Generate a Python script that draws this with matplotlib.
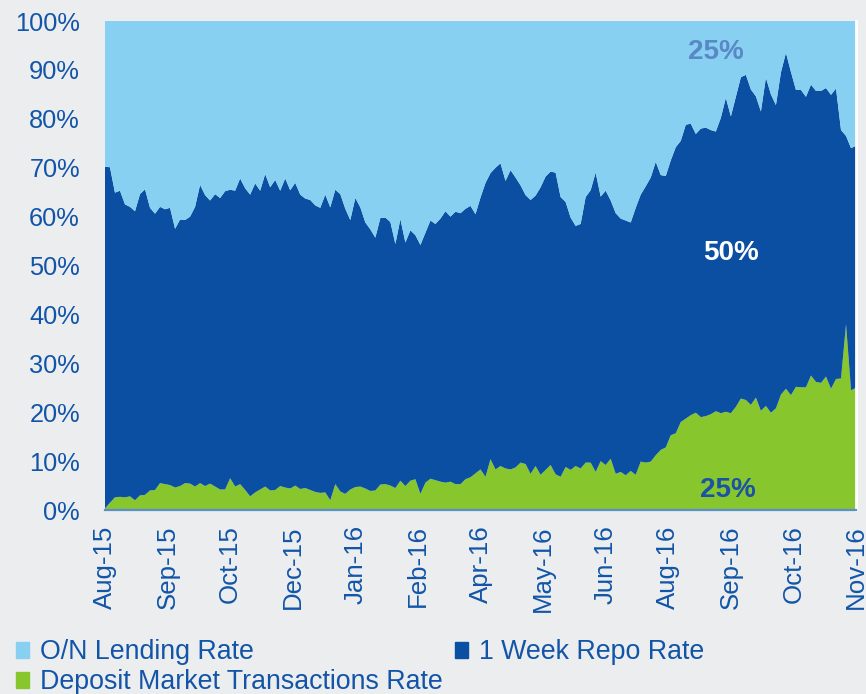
import numpy as np
import matplotlib
matplotlib.use("Agg")
import matplotlib.pyplot as plt
from matplotlib.patches import Patch

plt.rcParams['font.family'] = ['Liberation Sans', 'DejaVu Sans']

# shares of each rate in the 100% stack
deposit = [0.3, 1.5, 2.6, 2.7, 2.6, 2.8, 2.0, 3.0, 3.1, 4.0,
           4.1, 5.5, 5.3, 5.1, 4.6, 4.9, 5.5, 5.4, 4.8, 5.5,
           4.9, 5.4, 4.8, 4.2, 4.2, 6.5, 4.8, 5.3, 4.1, 2.8,
           3.6, 4.2, 4.8, 4.0, 4.1, 4.9, 4.6, 4.4, 5.0, 4.3,
           4.5, 4.1, 3.7, 3.5, 3.6, 2.0, 5.3, 3.8, 3.3, 4.2,
           4.7, 4.8, 4.4, 3.9, 4.0, 5.2, 5.3, 5.0, 4.5, 6.0,
           4.9, 6.0, 6.3, 3.3, 5.6, 6.4, 6.1, 5.8, 5.6, 5.8,
           5.3, 5.3, 6.3, 6.7, 7.5, 8.3, 6.8, 10.4, 8.3, 9.0,
           8.5, 8.3, 8.7, 9.7, 9.4, 7.4, 9.0, 7.2, 8.2, 9.2,
           7.3, 6.8, 8.8, 8.2, 9.0, 8.5, 9.7, 9.7, 7.8, 10.0,
           9.2, 10.5, 7.4, 7.8, 7.1, 8.0, 7.2, 9.9, 9.7, 9.9,
           11.2, 12.3, 12.8, 15.3, 15.7, 18.0, 18.7, 19.4, 19.9, 19.0,
           19.2, 19.6, 20.2, 19.8, 20.1, 19.8, 21.1, 22.8, 22.5, 21.5,
           23.0, 20.3, 21.3, 19.9, 20.8, 23.6, 24.8, 23.5, 25.2, 25.1,
           25.1, 27.5, 26.2, 26.0, 27.3, 24.8, 26.8, 26.9, 38.0, 24.5,
           25.0]

repo = [69.9, 68.6, 62.3, 62.6, 59.9, 59.2, 59.1, 61.6, 62.5, 57.8,
        56.5, 56.5, 56.2, 56.7, 52.9, 54.5, 53.8, 54.6, 57.2, 61.0,
        59.5, 57.9, 59.8, 59.6, 61.0, 59.0, 60.5, 62.5, 61.7, 61.7,
        63.2, 61.1, 63.9, 62.0, 63.4, 60.4, 63.2, 61.0, 61.9, 60.2,
        59.2, 59.3, 58.6, 58.3, 60.9, 59.9, 60.2, 60.8, 58.3, 55.1,
        59.1, 57.1, 54.4, 53.5, 51.7, 54.5, 54.5, 53.9, 49.9, 53.5,
        49.8, 51.2, 49.9, 50.9, 51.1, 52.8, 52.4, 53.8, 55.5, 54.2,
        55.7, 55.4, 55.3, 55.5, 53.0, 55.6, 60.1, 58.5, 61.7, 61.9,
        58.8, 61.2, 59.3, 56.7, 55.0, 56.0, 55.3, 58.8, 60.0, 60.0,
        61.7, 57.2, 54.2, 51.6, 49.1, 50.0, 54.3, 55.7, 61.2, 54.1,
        56.1, 52.8, 53.3, 51.8, 52.1, 50.8, 54.6, 54.6, 56.5, 58.1,
        60.0, 56.2, 55.5, 56.2, 58.5, 57.5, 60.1, 59.6, 57.0, 59.0,
        59.0, 58.1, 57.2, 60.4, 64.2, 60.7, 63.4, 65.7, 66.5, 64.5,
        61.6, 61.2, 67.1, 65.1, 62.0, 65.9, 68.7, 66.1, 60.7, 60.8,
        59.4, 59.5, 59.5, 59.7, 59.0, 60.1, 59.4, 50.8, 38.5, 49.5,
        49.5]

lending = [29.8, 29.9, 35.1, 34.7, 37.5, 38.0, 38.9, 35.4, 34.4, 38.2,
           39.4, 38.0, 38.5, 38.2, 42.5, 40.6, 40.7, 40.0, 38.0, 33.5,
           35.6, 36.7, 35.4, 36.2, 34.8, 34.5, 34.7, 32.2, 34.2, 35.5,
           33.2, 34.7, 31.3, 34.0, 32.5, 34.7, 32.2, 34.6, 33.1, 35.5,
           36.3, 36.6, 37.7, 38.2, 35.5, 38.1, 34.5, 35.4, 38.4, 40.7,
           36.2, 38.1, 41.2, 42.6, 44.3, 40.3, 40.2, 41.1, 45.6, 40.5,
           45.3, 42.8, 43.8, 45.8, 43.3, 40.8, 41.5, 40.4, 38.9, 40.0,
           39.0, 39.3, 38.4, 37.8, 39.5, 36.1, 33.1, 31.1, 30.0, 29.1,
           32.7, 30.5, 32.0, 33.6, 35.6, 36.6, 35.7, 34.0, 31.8, 30.8,
           31.0, 36.0, 37.0, 40.2, 41.9, 41.5, 36.0, 34.6, 31.0, 35.9,
           34.7, 36.7, 39.3, 40.4, 40.8, 41.2, 38.2, 35.5, 33.8, 32.0,
           28.8, 31.5, 31.7, 28.5, 25.8, 24.5, 21.2, 21.0, 23.1, 22.0,
           21.8, 22.3, 22.6, 19.8, 15.7, 19.5, 15.5, 11.5, 11.0, 14.0,
           15.4, 18.5, 11.6, 15.0, 17.2, 10.5, 6.5, 10.4, 14.1, 14.1,
           15.5, 13.0, 14.3, 14.3, 13.7, 15.1, 13.8, 22.3, 23.5, 26.0,
           25.5]

tick_labels = ['Aug-15', 'Sep-15', 'Oct-15', 'Dec-15', 'Jan-16', 'Feb-16', 'Apr-16',
               'May-16', 'Jun-16', 'Aug-16', 'Sep-16', 'Oct-16', 'Nov-16']

c_green = '#88C62E'
c_dark = '#0A4FA2'
c_light = '#88D0F2'
c_text = '#1255A8'
bg = '#ECEDEF'

n = len(deposit)
x = np.arange(n)

fig = plt.figure(figsize=(8.66, 6.94), dpi=100, facecolor=bg)
ax = fig.add_axes([0.1212, 0.2651, 0.8673, 0.7046])
ax.set_facecolor(bg)

ax.stackplot(x, deposit, repo, lending, colors=[c_green, c_dark, c_light], lw=0)

ax.set_xlim(0, n - 1)
ax.set_ylim(0, 100)
ax.set_yticks(np.arange(0, 101, 10))
ax.set_yticklabels([f'{v}%' for v in range(0, 101, 10)])
ax.set_xticks(np.linspace(0, n - 1, len(tick_labels)))
ax.set_xticklabels(tick_labels, rotation=90)
ax.tick_params(axis='y', length=0, pad=18, labelsize=18.3, labelcolor=c_text)
ax.tick_params(axis='x', length=0, pad=11, labelsize=18.6, labelcolor=c_text)

for s in ['top', 'left']:
    ax.spines[s].set_visible(False)
ax.spines['bottom'].set_color('#5B8FCB')
ax.spines['bottom'].set_linewidth(1.6)
ax.spines['right'].set_color('white')
ax.spines['right'].set_linewidth(2)

ax.text(122, 93.7, '25%', color='#5A88C6', fontsize=20, fontweight='bold',
        ha='center', va='center')
ax.text(125, 52.6, '50%', color='white', fontsize=20, fontweight='bold',
        ha='center', va='center')
ax.text(124.4, 4.1, '25%', color='#1A52A6', fontsize=20, fontweight='bold',
        ha='center', va='center')

handles = [Patch(color=c_light, label='O/N Lending Rate'),
           Patch(color=c_green, label='Deposit Market Transactions Rate'),
           Patch(color=c_dark, label='1 Week Repo Rate')]
leg = fig.legend(handles=handles, ncol=2, loc='lower left', bbox_to_anchor=(0.015, -0.006),
                 frameon=False, fontsize=19.3, handlelength=0.5, handleheight=0.5,
                 handletextpad=0.4, columnspacing=0.45, labelspacing=0.15,
                 borderpad=0.1, borderaxespad=0)
for t in leg.get_texts():
    t.set_color(c_text)

fig.savefig('out.png', dpi=100, facecolor=bg)
